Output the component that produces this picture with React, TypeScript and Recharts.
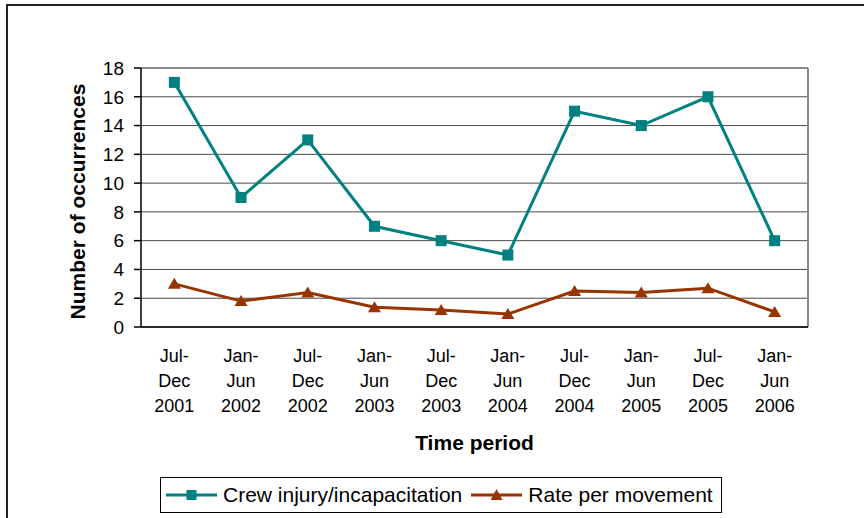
import * as React from "react";
import {
  LineChart, Line, XAxis, YAxis, CartesianGrid, Legend, ReferenceLine, Label
} from "recharts";

// half-year periods, each split into the three lines shown under the axis
const periods = [
  ["Jul-", "Dec", "2001"],
  ["Jan-", "Jun", "2002"],
  ["Jul-", "Dec", "2002"],
  ["Jan-", "Jun", "2003"],
  ["Jul-", "Dec", "2003"],
  ["Jan-", "Jun", "2004"],
  ["Jul-", "Dec", "2004"],
  ["Jan-", "Jun", "2005"],
  ["Jul-", "Dec", "2005"],
  ["Jan-", "Jun", "2006"],
];
const crewInjury = [17, 9, 13, 7, 6, 5, 15, 14, 16, 6];
const ratePerMovement = [3.0, 1.8, 2.4, 1.37, 1.18, 0.9, 2.5, 2.4, 2.7, 1.05];
const yTicks = [0, 2, 4, 6, 8, 10, 12, 14, 16, 18];

const TEAL = "#008080";
const BROWN = "#993300";

const data = periods.map((p, i) => ({
  idx: i,
  period: p.join(" "),
  crew: crewInjury[i],
  rate: ratePerMovement[i],
}));

const centerTicks = periods.map((_, i) => i);
const boundaryTicks = [...centerTicks.map((i) => i - 0.5), periods.length - 0.5];
const xDomain = [-0.5, periods.length - 0.5];

const SquareDot = (p: any) => (
  <rect key={`sq-${p.index}`} x={p.cx - 5.5} y={p.cy - 5.5} width={11} height={11} fill={TEAL} />
);

const TriangleDot = (p: any) => (
  <polygon
    key={`tr-${p.index}`}
    points={`${p.cx},${p.cy - 6} ${p.cx - 6.5},${p.cy + 5} ${p.cx + 6.5},${p.cy + 5}`}
    fill={BROWN}
  />
);

const PeriodTick = (p: any) => {
  const lines = periods[p.payload.value] || [];
  return (
    <text x={p.x} y={p.y} textAnchor="middle" fill="#000" fontSize={18}>
      {lines.map((t, k) => (
        <tspan key={k} x={p.x} dy={k === 0 ? 27 : 25}>{t}</tspan>
      ))}
    </text>
  );
};

const LegendIcon = ({ color, shape }: { color: string; shape: string }) => (
  <svg width={51} height={14} style={{ display: "block" }}>
    <line x1={0} y1={7} x2={51} y2={7} stroke={color} strokeWidth={3} />
    {shape === "square" ? (
      <rect x={20.5} y={2} width={10} height={10} fill={color} />
    ) : (
      <polygon points="25.5,1 19.5,12 31.5,12" fill={color} />
    )}
  </svg>
);

const LegendBox = (props: any) => {
  const items = props.payload || [];
  return (
    <div
      style={{
        display: "flex",
        alignItems: "center",
        boxSizing: "border-box",
        height: 36,
        border: "1px solid #000",
        background: "#fff",
        padding: "0 8px 0 5px",
        fontSize: 21,
        color: "#000",
        whiteSpace: "nowrap",
      }}
    >
      {items.map((it: any, i: number) => (
        <div key={i} style={{ display: "flex", alignItems: "center", marginLeft: i === 0 ? 0 : 9 }}>
          <LegendIcon color={it.color} shape={it.dataKey === "crew" ? "square" : "triangle"} />
          <span style={{ marginLeft: 6 }}>{it.value}</span>
        </div>
      ))}
    </div>
  );
};

export default function App() {
  return (
    <div
      style={{
        position: "absolute",
        left: 0,
        top: 0,
        width: 864,
        height: 518,
        overflow: "hidden",
        background: "#fff",
        fontFamily: "'Liberation Sans', Arial, sans-serif",
      }}
    >
      <div
        style={{
          position: "absolute",
          left: 6,
          top: 4,
          width: 1000,
          height: 1000,
          border: "2px solid #222",
        }}
      />
      <div style={{ position: "absolute", left: 0, top: 0 }}>
        <LineChart
          width={864}
          height={518}
          data={data}
          margin={{ top: 68, right: 56, left: 0, bottom: 68 }}
        >
          <CartesianGrid vertical={false} stroke="#4a4a4a" strokeWidth={1} />
          <XAxis
            xAxisId="b"
            type="number"
            dataKey="idx"
            domain={xDomain}
            ticks={boundaryTicks}
            tick={false}
            tickSize={5}
            height={8}
            axisLine={{ stroke: "#000", strokeWidth: 1.5 }}
            tickLine={{ stroke: "#000", strokeWidth: 1.5 }}
            allowDataOverflow
          />
          <XAxis
            xAxisId="l"
            type="number"
            dataKey="idx"
            domain={xDomain}
            ticks={centerTicks}
            tick={<PeriodTick />}
            tickSize={0}
            tickMargin={0}
            height={115}
            axisLine={false}
            tickLine={false}
            allowDataOverflow
          >
            <Label
              value="Time period"
              position="insideBottom"
              offset={0}
              style={{ fontSize: 21, fontWeight: "bold", fill: "#000" }}
            />
          </XAxis>
          <YAxis
            domain={[0, 18]}
            ticks={yTicks}
            width={141}
            tickSize={7}
            tickMargin={10}
            interval={0}
            tick={{ fontSize: 19, fill: "#000" }}
            axisLine={{ stroke: "#000", strokeWidth: 1.5 }}
            tickLine={{ stroke: "#000", strokeWidth: 1.5 }}
          >
            <Label
              content={(lp: any) => {
                const vb = lp.viewBox || {};
                const cy = vb.y + vb.height / 2 + 4;
                return (
                  <text
                    x={77}
                    y={cy}
                    transform={`rotate(-90, 77, ${cy})`}
                    textAnchor="middle"
                    dominantBaseline="central"
                    fontSize={21}
                    fontWeight="bold"
                    fill="#000"
                  >
                    Number of occurrences
                  </text>
                );
              }}
            />
          </YAxis>
          <ReferenceLine y={18} xAxisId="b" stroke="#888" strokeWidth={2} />
          <ReferenceLine x={xDomain[1]} xAxisId="b" stroke="#888" strokeWidth={2} />
          <Legend
            layout="horizontal"
            verticalAlign="middle"
            align="center"
            content={<LegendBox />}
            wrapperStyle={{ left: 160, top: 477, width: "auto", height: 36 }}
          />
          <Line
            xAxisId="b"
            name="Crew injury/incapacitation"
            dataKey="crew"
            stroke={TEAL}
            strokeWidth={3}
            dot={SquareDot}
            activeDot={false}
            isAnimationActive={false}
          />
          <Line
            xAxisId="b"
            name="Rate per movement"
            dataKey="rate"
            stroke={BROWN}
            strokeWidth={3}
            dot={TriangleDot}
            activeDot={false}
            isAnimationActive={false}
          />
        </LineChart>
      </div>
    </div>
  );
}
